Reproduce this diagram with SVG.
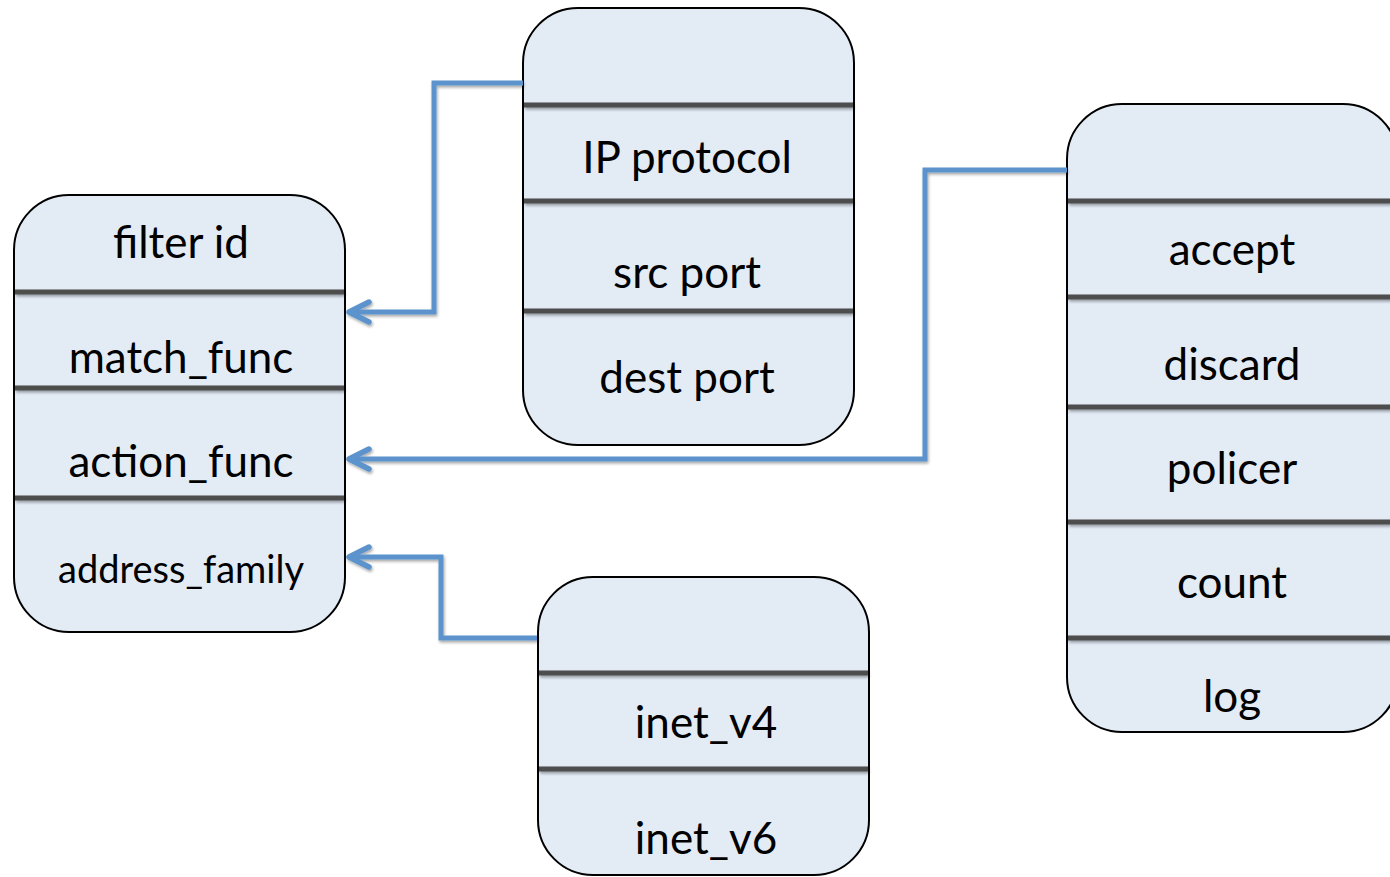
<svg xmlns="http://www.w3.org/2000/svg" width="1390" height="877" viewBox="0 0 1390 877">
  <defs>
    <filter id="soft" x="-5%" y="-20%" width="110%" height="160%">
      <feGaussianBlur in="SourceAlpha" stdDeviation="1.5"/>
      <feOffset dx="1" dy="2" result="b"/>
      <feComponentTransfer><feFuncA type="linear" slope="0.35"/></feComponentTransfer>
      <feMerge><feMergeNode/><feMergeNode in="SourceGraphic"/></feMerge>
    </filter>
    <marker id="chev" viewBox="0 0 26 26" refX="23" refY="13" markerWidth="26" markerHeight="26" markerUnits="userSpaceOnUse" orient="auto">
      <path d="M3 3 L23 13 L3 23" fill="none" stroke="#5b93cc" stroke-width="5.5" stroke-linecap="round" stroke-linejoin="round"/>
    </marker>
  </defs>
  <style>
    .box { fill: #e3ebf5; stroke: #000; stroke-width: 2; }
    .sep { stroke: #4d4d4d; stroke-width: 5; }
    .lbl { font-family: Lato, "Liberation Sans", sans-serif; font-size: 44px; fill: #000; text-anchor: middle; }
    .sm { font-size: 38px; }
    .conn { fill: none; stroke: #5b93cc; stroke-width: 5; stroke-linejoin: miter; }
  </style>
  <rect width="1390" height="877" fill="#fff"/>

  <!-- filter record -->
  <g id="filter">
    <rect class="box" x="14" y="195" width="331" height="437" rx="55" ry="55"/>
    <g filter="url(#soft)">
      <line class="sep" x1="15" y1="292" x2="344" y2="292"/>
      <line class="sep" x1="15" y1="388" x2="344" y2="388"/>
      <line class="sep" x1="15" y1="498" x2="344" y2="498"/>
    </g>
    <text class="lbl" x="181" y="258">filter id</text>
    <text class="lbl" x="181" y="373">match_func</text>
    <text class="lbl" x="181" y="477">action_func</text>
    <text class="lbl sm" x="181" y="583">address_family</text>
  </g>

  <!-- match fields -->
  <g id="match">
    <rect class="box" x="523" y="8" width="331" height="437" rx="55" ry="55"/>
    <g filter="url(#soft)">
      <line class="sep" x1="524" y1="105" x2="853" y2="105"/>
      <line class="sep" x1="524" y1="201" x2="853" y2="201"/>
      <line class="sep" x1="524" y1="311" x2="853" y2="311"/>
    </g>
    <text class="lbl" x="687" y="173">IP protocol</text>
    <text class="lbl" x="687" y="288">src port</text>
    <text class="lbl" x="687" y="393">dest port</text>
  </g>

  <!-- actions -->
  <g id="actions">
    <rect class="box" x="1067" y="104" width="331" height="628" rx="55" ry="55"/>
    <g filter="url(#soft)">
      <line class="sep" x1="1068" y1="201" x2="1398" y2="201"/>
      <line class="sep" x1="1068" y1="297" x2="1398" y2="297"/>
      <line class="sep" x1="1068" y1="407" x2="1398" y2="407"/>
      <line class="sep" x1="1068" y1="522" x2="1398" y2="522"/>
      <line class="sep" x1="1068" y1="638" x2="1398" y2="638"/>
    </g>
    <text class="lbl" x="1232" y="265">accept</text>
    <text class="lbl" x="1232" y="380">discard</text>
    <text class="lbl" x="1232" y="484">policer</text>
    <text class="lbl" x="1232" y="598">count</text>
    <text class="lbl" x="1232" y="712">log</text>
  </g>

  <!-- address families -->
  <g id="families">
    <rect class="box" x="538" y="577" width="331" height="298" rx="55" ry="55"/>
    <g filter="url(#soft)">
      <line class="sep" x1="539" y1="673" x2="868" y2="673"/>
      <line class="sep" x1="539" y1="769" x2="868" y2="769"/>
    </g>
    <text class="lbl" x="706" y="738">inet_v4</text>
    <text class="lbl" x="706" y="854">inet_v6</text>
  </g>

  <!-- connectors -->
  <g id="connectors" filter="url(#soft)">
    <path class="conn" d="M523 83 H434 V312 H349" marker-end="url(#chev)"/>
    <path class="conn" d="M1067 170 H925 V459 H349" marker-end="url(#chev)"/>
    <path class="conn" d="M537 638 H441 V557 H349" marker-end="url(#chev)"/>
  </g>
</svg>
